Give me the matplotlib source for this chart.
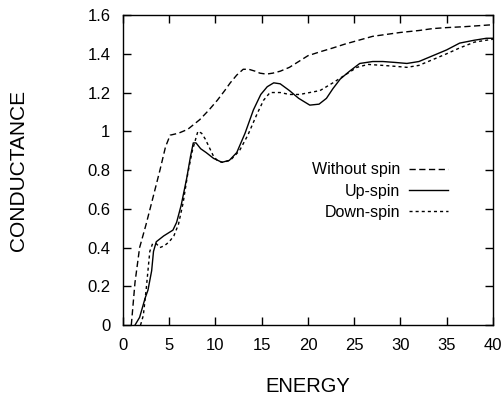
import matplotlib as mpl
from matplotlib import pyplot as plt

mpl.use("agg")
mpl.rcParams["font.family"] = ["Liberation Sans", "DejaVu Sans"]
mpl.rcParams["font.size"] = 12

# conductance vs energy
energy_nospin = [0.9, 1.3, 1.8, 2.5, 3.2, 4.0, 4.6, 5.1, 6.0, 7.0, 8.3, 9.3, 10.2,
                 11.0, 11.6, 12.3, 13.0, 13.6, 14.3, 14.8, 15.5, 16.2, 17.0, 18.0,
                 19.0, 20.0, 21.3, 22.7, 24.0, 25.5, 27.0, 28.5, 30.0, 32.0, 33.5,
                 35.0, 37.0, 38.5, 40.0]
g_nospin = [0.0, 0.22, 0.40, 0.52, 0.65, 0.80, 0.92, 0.98, 0.99, 1.01, 1.06, 1.11,
            1.16, 1.21, 1.25, 1.29, 1.32, 1.32, 1.31, 1.30, 1.295, 1.30, 1.31, 1.33,
            1.36, 1.39, 1.41, 1.43, 1.45, 1.47, 1.49, 1.50, 1.51, 1.52, 1.53, 1.535,
            1.54, 1.545, 1.55]

energy_up = [1.3, 1.8, 2.4, 2.7, 3.1, 3.3, 3.6, 4.4, 5.4, 5.8, 6.3, 6.9, 7.3, 7.6,
             7.9, 8.4, 9.0, 9.8, 10.7, 11.5, 12.3, 13.2, 14.1, 14.9, 15.6, 16.3,
             17.0, 18.0, 19.0, 20.2, 21.2, 22.0, 22.7, 23.5, 24.5, 25.6, 27.0, 28.1,
             29.5, 30.7, 32.0, 33.5, 35.0, 36.4, 38.0, 39.3, 40.0]
g_up = [0.0, 0.04, 0.14, 0.18, 0.28, 0.38, 0.43, 0.46, 0.49, 0.53, 0.62, 0.76, 0.87,
        0.94, 0.94, 0.91, 0.89, 0.86, 0.84, 0.85, 0.89, 0.99, 1.11, 1.19, 1.23, 1.25,
        1.245, 1.21, 1.17, 1.135, 1.14, 1.17, 1.22, 1.27, 1.31, 1.35, 1.36, 1.36,
        1.355, 1.35, 1.36, 1.39, 1.42, 1.455, 1.47, 1.48, 1.48]

energy_down = [1.9, 2.2, 2.5, 2.7, 2.9, 3.2, 3.6, 4.0, 4.5, 5.0, 5.5, 6.0, 6.5, 7.0,
               7.5, 8.1, 8.5, 8.9, 9.4, 9.8, 10.3, 10.8, 11.6, 12.6, 13.5, 14.5, 15.2,
               15.9, 17.0, 18.0, 19.1, 20.2, 21.3, 22.7, 24.0, 25.3, 26.5, 28.1, 29.5,
               30.7, 32.0, 33.5, 35.0, 36.4, 38.0, 39.3, 40.0]
g_down = [0.0, 0.05, 0.18, 0.28, 0.38, 0.42, 0.42, 0.40, 0.41, 0.43, 0.46, 0.52, 0.63,
          0.78, 0.90, 1.00, 0.99, 0.96, 0.91, 0.87, 0.845, 0.84, 0.85, 0.90, 0.98, 1.09,
          1.16, 1.20, 1.20, 1.19, 1.19, 1.20, 1.21, 1.25, 1.29, 1.33, 1.345, 1.34,
          1.335, 1.33, 1.34, 1.37, 1.40, 1.43, 1.46, 1.47, 1.475]

fig = plt.figure(figsize=(5.04, 3.95), dpi=100)
ax = fig.add_axes([0.244, 0.177, 0.734, 0.785])

ax.plot(energy_nospin, g_nospin, c="k", lw=1.0, ls=(0, (4.5, 2.5)), label="Without spin")
ax.plot(energy_up, g_up, c="k", lw=1.0, ls="-", label="Up-spin")
ax.plot(energy_down, g_down, c="k", lw=1.0, ls=(0, (2.2, 2.2)), label="Down-spin")

ax.set_xlim(0, 40)
ax.set_ylim(0, 1.6)
ax.set_xticks(range(0, 41, 5))
ax.set_yticks([0, 0.2, 0.4, 0.6, 0.8, 1, 1.2, 1.4, 1.6])
ax.set_yticklabels(["0", "0.2", "0.4", "0.6", "0.8", "1", "1.2", "1.4", "1.6"])
ax.tick_params(direction="in", length=6, width=1, top=True, right=True, pad=9,
               labelsize=12)
for s in ax.spines.values():
    s.set_linewidth(1.0)

ax.set_xlabel("ENERGY", fontsize=14.5)
ax.set_ylabel("CONDUCTANCE", fontsize=15)
ax.xaxis.set_label_coords(0.5, -0.168)
ax.yaxis.set_label_coords(-0.257, 0.5)

ax.legend(loc="center right", bbox_to_anchor=(0.878, 0.432), frameon=False,
          markerfirst=False, handlelength=2.4, handletextpad=0.6,
          labelspacing=0.4, borderpad=0, borderaxespad=0, fontsize=11.5)

fig.savefig("out.png", dpi=100)
plt.close(fig)
